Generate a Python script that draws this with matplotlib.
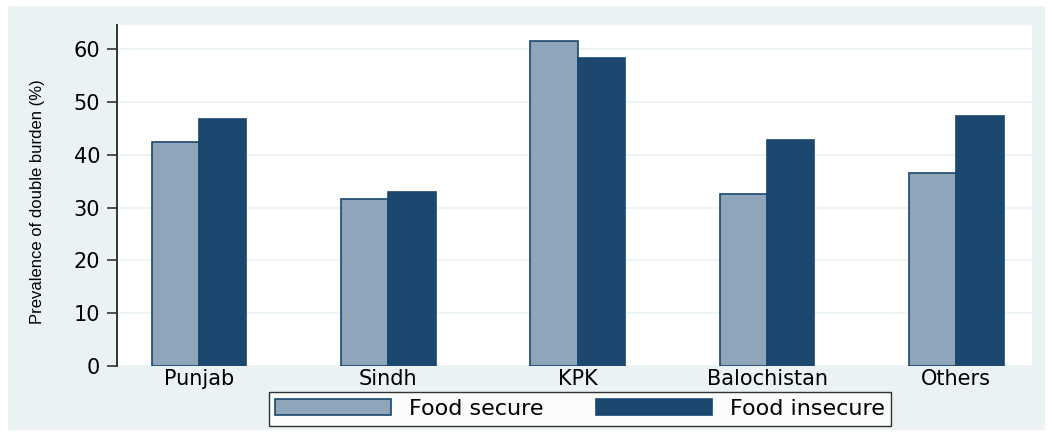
import numpy as np
import matplotlib
matplotlib.use('Agg')
import matplotlib.pyplot as plt
from matplotlib.patches import Rectangle

# values
regions = ['Punjab', 'Sindh', 'KPK', 'Balochistan', 'Others']
food_secure = [42.4, 31.7, 61.6, 32.6, 36.6]
food_insecure = [46.8, 32.9, 58.3, 42.8, 47.3]
yticks = [0, 10, 20, 30, 40, 50, 60]

bg = '#eaf2f3'
c_secure = '#8ea5ba'
c_insecure = '#1c4870'
edge = '#1a476f'

fig = plt.figure(figsize=(10.52, 4.36), dpi=100, facecolor='white')
fig.patches.append(Rectangle((8 / 1052, 6 / 436), 1037 / 1052, 424 / 436,
                             transform=fig.transFigure, facecolor=bg,
                             edgecolor='none', zorder=-10))
ax = fig.add_axes([117 / 1052, (436 - 366) / 436, 915 / 1052, 341 / 436])
ax.set_facecolor('white')

x = np.arange(len(regions))
w = 0.25
ax.bar(x - w / 2, food_secure, w, color=c_secure, edgecolor=edge, linewidth=1.2,
       label='Food secure', zorder=3)
ax.bar(x + w / 2, food_insecure, w, color=c_insecure, edgecolor=edge, linewidth=1.2,
       label='Food insecure', zorder=3)

ax.set_xlim(-0.434, 4.40)
ax.set_ylim(0, 341 / 5.28)
ax.set_yticks(yticks)
ax.set_xticks(x)
ax.set_xticklabels(regions)
ax.yaxis.grid(True, color=bg, linewidth=1.2, zorder=0)
ax.set_axisbelow(True)

for side in ['top', 'right', 'bottom']:
    ax.spines[side].set_visible(False)
ax.spines['left'].set_color('#333333')
ax.spines['left'].set_linewidth(1.4)
ax.tick_params(axis='y', length=7, width=1.2, color='#333333', labelsize=15, pad=5)
ax.tick_params(axis='x', length=0, labelsize=15, pad=2)
for lab in ax.get_xticklabels() + ax.get_yticklabels():
    lab.set_fontfamily('DejaVu Sans')

ax.set_ylabel('Prevalence of double burden (%)', fontsize=12,
              fontfamily=['Liberation Sans Narrow', 'Liberation Sans'])
ax.yaxis.set_label_coords(45 / 1052, (436 - 202) / 436, transform=fig.transFigure)

leg = fig.legend(loc='center', bbox_to_anchor=(580 / 1052, (436 - 409) / 436),
                 ncol=2, frameon=True, fancybox=False, edgecolor='black',
                 prop={'family': 'DejaVu Sans', 'size': 16},
                 handlelength=5.2, handleheight=0.7, columnspacing=2.4,
                 borderpad=0.3, handletextpad=0.8, borderaxespad=0)
leg.get_frame().set_linewidth(1.0)

fig.savefig('out.png', dpi=100, facecolor='white')
